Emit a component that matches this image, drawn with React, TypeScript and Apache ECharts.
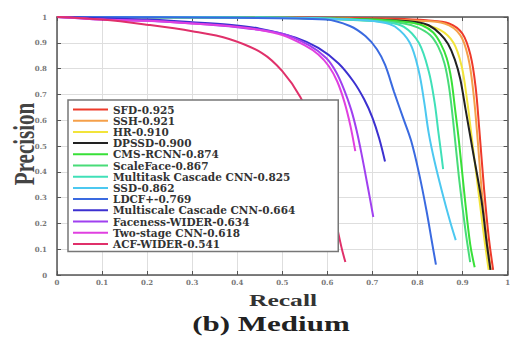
import React, { useEffect, useRef } from "react";
import * as echarts from "echarts";

const seriesNames = [
  "SFD-0.925",
  "SSH-0.921",
  "HR-0.910",
  "DPSSD-0.900",
  "CMS-RCNN-0.874",
  "ScaleFace-0.867",
  "Multitask Cascade CNN-0.825",
  "SSD-0.862",
  "LDCF+-0.769",
  "Multiscale Cascade CNN-0.664",
  "Faceness-WIDER-0.634",
  "Two-stage CNN-0.618",
  "ACF-WIDER-0.541",
];

const seriesColors = [
  "#ee3a2a", "#f5a04a", "#f2e43a", "#222222", "#38e038", "#48dc78", "#40e0b8",
  "#4cc8f0", "#3a6ae0", "#3c30d0", "#a040f0", "#e040e0", "#e0306a",
];

const sfdRecall = [0, 0.2, 0.4, 0.6, 0.75, 0.82, 0.87, 0.9, 0.918, 0.929, 0.937, 0.948, 0.958, 0.968];
const sfdPrecision = [1, 1, 0.999, 0.997, 0.993, 0.987, 0.975, 0.935, 0.85, 0.73, 0.57, 0.33, 0.15, 0.02];

const sshRecall = [0, 0.5, 0.7, 0.8, 0.86, 0.895, 0.913, 0.924, 0.932, 0.943, 0.954, 0.963];
const sshPrecision = [1, 0.998, 0.99, 0.985, 0.975, 0.93, 0.84, 0.71, 0.56, 0.32, 0.14, 0.02];

const hrRecall = [0, 0.5, 0.7, 0.8, 0.85, 0.88, 0.898, 0.91, 0.92, 0.937, 0.95, 0.958];
const hrPrecision = [1, 0.997, 0.99, 0.975, 0.95, 0.9, 0.81, 0.68, 0.54, 0.3, 0.12, 0.02];

const dpssdRecall = [0, 0.5, 0.7, 0.8, 0.825, 0.85, 0.868, 0.883, 0.895, 0.907, 0.922, 0.942, 0.954, 0.962];
const dpssdPrecision = [1, 0.997, 0.99, 0.98, 0.968, 0.935, 0.895, 0.835, 0.76, 0.64, 0.49, 0.29, 0.12, 0.02];

const cmsRecall = [0, 0.5, 0.7, 0.78, 0.81, 0.835, 0.852, 0.865, 0.875, 0.883, 0.892, 0.905, 0.917, 0.927];
const cmsPrecision = [1, 0.997, 0.99, 0.98, 0.968, 0.94, 0.895, 0.84, 0.76, 0.65, 0.52, 0.3, 0.12, 0.03];

const scaleFaceRecall = [0, 0.5, 0.7, 0.77, 0.8, 0.828, 0.846, 0.86, 0.87, 0.879, 0.892, 0.906, 0.917];
const scaleFacePrecision = [1, 0.996, 0.985, 0.975, 0.96, 0.93, 0.885, 0.82, 0.73, 0.6, 0.38, 0.18, 0.05];

const multitaskRecall = [0, 0.5, 0.65, 0.73, 0.77, 0.803, 0.825, 0.838, 0.846, 0.852, 0.857];
const multitaskPrecision = [1, 0.997, 0.99, 0.98, 0.962, 0.9, 0.79, 0.67, 0.56, 0.48, 0.41];

const ssdRecall = [0, 0.5, 0.65, 0.72, 0.75, 0.783, 0.803, 0.815, 0.825, 0.838, 0.855, 0.872, 0.885];
const ssdPrecision = [1, 0.997, 0.99, 0.98, 0.963, 0.9, 0.79, 0.67, 0.55, 0.44, 0.32, 0.21, 0.135];

const ldcfRecall = [0, 0.4, 0.596, 0.65, 0.685, 0.71, 0.728, 0.748, 0.768, 0.786, 0.804, 0.82, 0.832, 0.841];
const ldcfPrecision = [1, 0.997, 0.99, 0.965, 0.925, 0.875, 0.815, 0.71, 0.61, 0.52, 0.39, 0.25, 0.13, 0.04];

const multiscaleRecall = [0, 0.1, 0.2, 0.3, 0.382, 0.45, 0.53, 0.58, 0.625, 0.658, 0.682, 0.7, 0.715, 0.728];
const multiscalePrecision = [1, 0.995, 0.99, 0.98, 0.97, 0.955, 0.92, 0.88, 0.82, 0.75, 0.68, 0.61, 0.53, 0.44];

const facenessRecall = [0, 0.1, 0.2, 0.3, 0.4, 0.5, 0.56, 0.598, 0.62, 0.638, 0.653, 0.665, 0.677, 0.69, 0.702];
const facenessPrecision = [1, 0.99, 0.985, 0.975, 0.96, 0.935, 0.89, 0.84, 0.785, 0.715, 0.64, 0.56, 0.46, 0.34, 0.225];

const twoStageRecall = [0, 0.1, 0.2, 0.3, 0.382, 0.45, 0.5, 0.55, 0.58, 0.603, 0.622, 0.638, 0.651, 0.662];
const twoStagePrecision = [1, 0.99, 0.985, 0.975, 0.965, 0.95, 0.93, 0.89, 0.855, 0.81, 0.75, 0.67, 0.58, 0.48];

const acfRecall = [0, 0.1, 0.2, 0.3, 0.382, 0.455, 0.5, 0.54, 0.57, 0.592, 0.607, 0.62, 0.631, 0.64];
const acfPrecision = [1, 0.99, 0.97, 0.945, 0.915, 0.86, 0.79, 0.69, 0.57, 0.44, 0.32, 0.2, 0.11, 0.05];

const recallLists = [
  sfdRecall, sshRecall, hrRecall, dpssdRecall, cmsRecall, scaleFaceRecall, multitaskRecall,
  ssdRecall, ldcfRecall, multiscaleRecall, facenessRecall, twoStageRecall, acfRecall,
];
const precisionLists = [
  sfdPrecision, sshPrecision, hrPrecision, dpssdPrecision, cmsPrecision, scaleFacePrecision, multitaskPrecision,
  ssdPrecision, ldcfPrecision, multiscalePrecision, facenessPrecision, twoStagePrecision, acfPrecision,
];

const tickFormatter = (v: number) => {
  if (Math.abs(v) < 1e-9) return "0";
  if (Math.abs(v - 1) < 1e-9) return "1";
  return v.toFixed(1);
};

export default function App() {
  const ref = useRef<HTMLDivElement>(null);
  useEffect(() => {
    document.body.style.margin = "0";
    if (!ref.current) return;
    const chart = echarts.init(ref.current, null, { renderer: "svg" });
    const axisLineStyle = { color: "#555", width: 1.5 };
    const labelStyle = {
      fontFamily: "DejaVu Serif",
      fontSize: 7,
      fontWeight: "bold" as const,
      color: "#777",
    };
    const series = seriesNames.map((name, i) => ({
      name,
      type: "line",
      symbol: "none",
      smooth: 0.35,
      data: recallLists[i].map((r, j) => [r, precisionLists[i][j]]),
      lineStyle: { color: seriesColors[i], width: 2 },
      itemStyle: { color: seriesColors[i] },
    }));
    chart.setOption({
      animation: false,
      backgroundColor: "#fff",
      grid: { left: 57, top: 17, width: 453, height: 258 },
      xAxis: [
        {
          type: "value",
          min: 0,
          max: 1,
          interval: 0.1,
          position: "bottom",
          axisLine: { show: true, onZero: false, lineStyle: axisLineStyle },
          axisTick: { show: true, inside: true, length: 4, lineStyle: { color: "#555" } },
          axisLabel: { ...labelStyle, margin: 4, formatter: tickFormatter },
          splitLine: { show: true, lineStyle: { color: "#dedede", width: 1 } },
        },
        {
          type: "value",
          min: 0,
          max: 1,
          interval: 0.1,
          position: "top",
          axisLine: { show: true, onZero: false, lineStyle: axisLineStyle },
          axisTick: { show: true, inside: true, length: 4, lineStyle: { color: "#555" } },
          axisLabel: { show: false },
          splitLine: { show: false },
        },
      ],
      yAxis: [
        {
          type: "value",
          min: 0,
          max: 1,
          interval: 0.1,
          position: "left",
          axisLine: { show: true, onZero: false, lineStyle: axisLineStyle },
          axisTick: { show: true, inside: true, length: 4, lineStyle: { color: "#555" } },
          axisLabel: { ...labelStyle, margin: 10, formatter: tickFormatter },
          splitLine: { show: true, lineStyle: { color: "#dedede", width: 1 } },
        },
        {
          type: "value",
          min: 0,
          max: 1,
          interval: 0.1,
          position: "right",
          axisLine: { show: true, onZero: false, lineStyle: axisLineStyle },
          axisTick: { show: true, inside: true, length: 4, lineStyle: { color: "#555" } },
          axisLabel: { show: false },
          splitLine: { show: false },
        },
      ],
      legend: {
        orient: "vertical",
        left: 68,
        top: 100,
        padding: [4, 43, 2, 4],
        itemGap: 0.2,
        itemWidth: 35,
        itemHeight: 2,
        backgroundColor: "#fff",
        borderColor: "#777",
        borderWidth: 1.5,
        data: seriesNames,
        itemStyle: { color: "rgba(0,0,0,0)", borderColor: "rgba(0,0,0,0)", borderWidth: 0 },
        lineStyle: { width: 2 },
        textStyle: {
          fontFamily: "DejaVu Serif",
          fontWeight: "bold",
          fontSize: 10.5,
          lineHeight: 11,
          height: 11,
          color: "#333",
        },
      },
      graphic: [
        {
          type: "text",
          x: 283,
          y: 301,
          scaleX: 1.6,
          style: {
            text: "Recall",
            fontFamily: "Liberation Serif",
            fontWeight: "bold",
            fontSize: 16,
            fill: "#333",
            align: "center",
            verticalAlign: "middle",
            textAlign: "center",
            textVerticalAlign: "middle",
          },
        },
        {
          type: "text",
          x: 271,
          y: 324,
          scaleX: 1.55,
          style: {
            text: "(b) Medium",
            fontFamily: "Liberation Serif",
            fontWeight: "bold",
            fontSize: 20,
            fill: "#222",
            align: "center",
            verticalAlign: "middle",
            textAlign: "center",
            textVerticalAlign: "middle",
          },
        },
        {
          type: "text",
          x: 24,
          y: 144,
          rotation: Math.PI / 2,
          scaleY: 1.4,
          style: {
            text: "Precision",
            fontFamily: "Liberation Serif",
            fontWeight: "bold",
            fontSize: 21,
            fill: "#444",
            align: "center",
            verticalAlign: "middle",
            textAlign: "center",
            textVerticalAlign: "middle",
          },
        },
      ],
      series,
    });
    return () => chart.dispose();
  }, []);
  return <div ref={ref} style={{ width: 513, height: 338 }} />;
}
